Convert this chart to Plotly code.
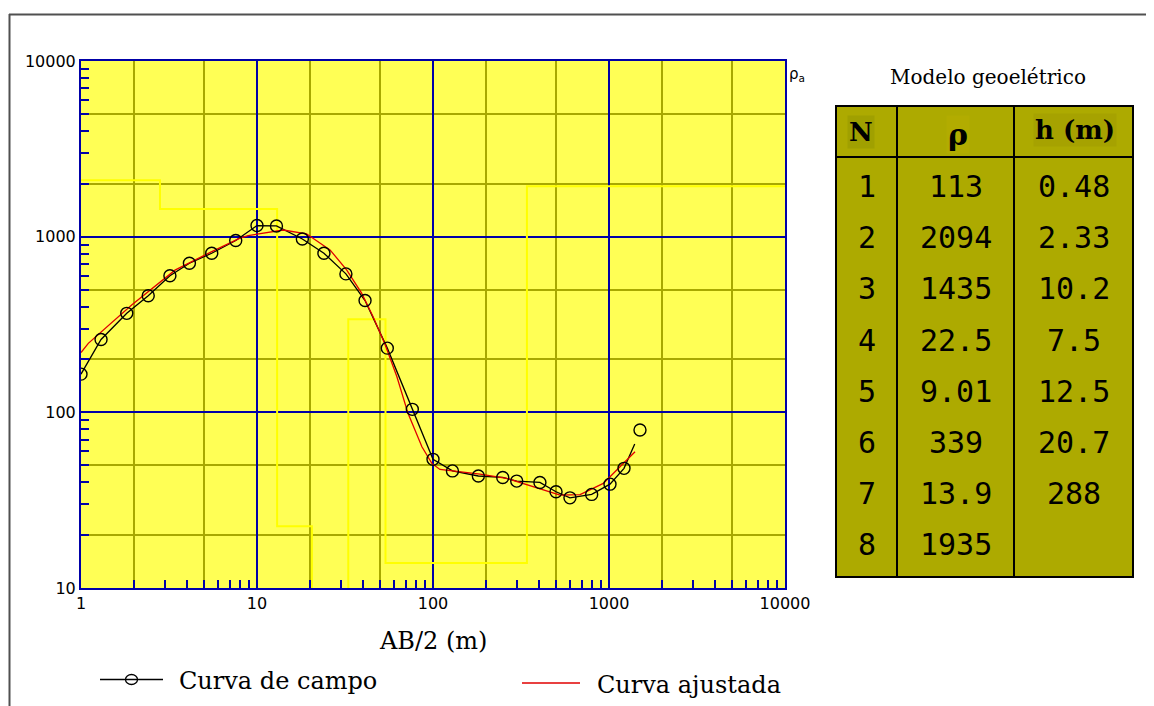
import plotly.graph_objects as go

# ---------------- data ----------------
# Field sounding curve (AB/2 in m, apparent resistivity in ohm.m)
field_ab2 = [1.0, 1.30, 1.82, 2.41, 3.20, 4.13, 5.53, 7.57, 10.0, 12.9, 18.1, 24.0, 32.0,
             41.1, 55.0, 76.3, 100, 129, 181, 249, 299, 405, 500, 600, 797, 1013, 1217, 1500]
field_rho = [165, 260, 366, 461, 599, 706, 805, 951, 1157, 1151, 970, 805, 614,
             433, 232, 104, 54.0, 46.4, 43.4, 42.6, 40.6, 39.9, 35.3, 32.6, 34.1, 39.0, 48.0, 79.3]
# end of the drawn field line (it stops short of the last circle)
field_line_end_ab2 = 1400
field_line_end_rho = 66

# Fitted (model) curve
fit_ab2 = [1.0, 1.1, 1.94, 3.42, 5.5, 8.0, 8.9, 12.6, 14.1, 19.1, 26.0, 32.3, 39.3, 45.6,
           53.1, 62.3, 72.1, 86.5, 98.5, 109.5, 185, 262, 370, 527, 685, 928, 1155, 1406]
fit_rho = [219, 247, 408, 645, 820, 982, 1015, 1066, 1091, 1038, 841, 647, 477, 351,
           247, 160, 98.7, 63.7, 51.2, 47.3, 44.5, 42.1, 37.7, 33.8, 34.0, 39.4, 49.0, 59.6]

# Geoelectric model (table)
layer_n = [1, 2, 3, 4, 5, 6, 7, 8]
layer_rho = [113, 2094, 1435, 22.5, 9.01, 339, 13.9, 1935]
layer_h = [0.48, 2.33, 10.2, 7.5, 12.5, 20.7, 288, None]
layer_rho_txt = ["113", "2094", "1435", "22.5", "9.01", "339", "13.9", "1935"]
layer_h_txt = ["0.48", "2.33", "10.2", "7.5", "12.5", "20.7", "288", ""]

x_decades = [1, 10, 100, 1000, 10000]
x_labels = ["1", "10", "100", "1000", "10000"]
y_decades = [10, 100, 1000, 10000]
y_labels = ["10", "100", "1000", "10000"]

# ---------------- style ----------------
W, H = 1154, 706          # browser window
OFF = 8                   # default page body margin
FW, FH = W - OFF, H - OFF  # figure size
L, R, T, B = 81, 785, 61, 588   # plot area in window pixels
YEL_BG = "#FFFF55"
OLIVE = "#A8A800"
NAVY = "#0000A8"
TABLE_FILL = "#ADAA00"
SERIF = "DejaVu Serif"


def px(x):
    return (x - L) / (R - L)


def py(y):
    return (B - y) / (B - T)


# model step line built from the layer table
tops = [0.1]
depth = 0.0
for h in layer_h[:-1]:
    depth += h
    tops.append(depth)
bottoms = tops[1:] + [1e5]
step_x, step_y = [], []
for t, b, r in zip(tops, bottoms, layer_rho):
    step_x += [t, b]
    step_y += [r, r]

fig = go.Figure()
fig.add_trace(go.Scatter(x=step_x, y=step_y, mode="lines",
                         line=dict(color="#FFFF00", width=2), hoverinfo="skip"))
fig.add_trace(go.Scatter(x=field_ab2[:-1] + [field_line_end_ab2],
                         y=field_rho[:-1] + [field_line_end_rho], mode="lines",
                         line=dict(color="black", width=1.3), hoverinfo="skip"))
fig.add_trace(go.Scatter(x=fit_ab2, y=fit_rho, mode="lines",
                         line=dict(color="#E00000", width=1.3), hoverinfo="skip"))
fig.add_trace(go.Scatter(x=field_ab2, y=field_rho, mode="markers",
                         marker=dict(symbol="circle-open", size=12, color="black",
                                     line=dict(width=1.4, color="black")),
                         hoverinfo="skip"))
# dummy trace for the overlay (minor tick) axes
fig.add_trace(go.Scatter(x=[1], y=[10], xaxis="x2", yaxis="y2", mode="markers",
                         marker=dict(opacity=0), hoverinfo="skip"))

grid_minor_x = [k * 10 ** d for d in range(4) for k in (2, 5)]
grid_minor_y = [k * 10 ** d for d in range(1, 4) for k in (2, 5)]
ticks_minor_x = [k * 10 ** d for d in range(4) for k in range(2, 10)]
ticks_minor_y = [k * 10 ** d for d in range(1, 4) for k in range(2, 10)]

tickfont = dict(family="DejaVu Sans", size=16, color="black")

fig.update_layout(
    width=FW, height=FH, autosize=False,
    margin=dict(l=L - OFF, r=W - R, t=T - OFF, b=H - B, pad=0),
    paper_bgcolor="white", plot_bgcolor=YEL_BG, showlegend=False,
    xaxis=dict(type="log", range=[0, 4], tickmode="array", tickvals=x_decades,
               ticktext=x_labels, showgrid=True, gridcolor=NAVY, gridwidth=2,
               ticks="", showline=True, linecolor=NAVY, linewidth=2, mirror=True,
               zeroline=False, tickfont=tickfont,
               minor=dict(tickmode="array", tickvals=grid_minor_x, showgrid=True,
                          gridcolor=OLIVE, gridwidth=2, ticks="")),
    yaxis=dict(type="log", range=[1, 4], tickmode="array", tickvals=y_decades,
               ticktext=y_labels, showgrid=True, gridcolor=NAVY, gridwidth=2,
               ticks="", showline=True, linecolor=NAVY, linewidth=2, mirror=True,
               zeroline=False, tickfont=tickfont,
               minor=dict(tickmode="array", tickvals=grid_minor_y, showgrid=True,
                          gridcolor=OLIVE, gridwidth=2, ticks="")),
    xaxis2=dict(type="log", range=[0, 4], overlaying="x", side="bottom",
                tickmode="array", tickvals=ticks_minor_x, ticks="inside", ticklen=8,
                tickwidth=2, tickcolor=NAVY, showticklabels=False, showgrid=False,
                showline=False, zeroline=False),
    yaxis2=dict(type="log", range=[1, 4], overlaying="y", side="left",
                tickmode="array", tickvals=ticks_minor_y, ticks="inside", ticklen=8,
                tickwidth=2, tickcolor=NAVY, showticklabels=False, showgrid=False,
                showline=False, zeroline=False),
)

shapes = []
ann = []

# outer frame (top and left edges visible)
shapes.append(dict(type="line", xref="paper", yref="paper", x0=px(9), x1=px(1154),
                   y0=py(14.5), y1=py(14.5), line=dict(color="#505050", width=2)))
shapes.append(dict(type="line", xref="paper", yref="paper", x0=px(9.5), x1=px(9.5),
                   y0=py(14), y1=py(706), line=dict(color="#505050", width=2)))

# rho_a label
ann.append(dict(xref="paper", yref="paper", x=px(787), y=py(74), xanchor="left",
                yanchor="middle", showarrow=False, text="ρ<sub>a</sub>",
                font=dict(family="DejaVu Sans", size=15, color="black")))

# x-axis title
ann.append(dict(xref="paper", yref="paper", x=px(433), y=py(641), xanchor="center",
                yanchor="middle", showarrow=False, text="AB/2 (m)",
                font=dict(family=SERIF, size=24, color="black")))

# legend
shapes.append(dict(type="line", xref="paper", yref="paper", x0=px(100), x1=px(163),
                   y0=py(679.5), y1=py(679.5), line=dict(color="black", width=1.3)))
shapes.append(dict(type="circle", xref="paper", yref="paper", x0=px(125.5), x1=px(137.5),
                   y0=py(674.5), y1=py(684.5), line=dict(color="black", width=1.3),
                   fillcolor="rgba(0,0,0,0)"))
ann.append(dict(xref="paper", yref="paper", x=px(177), y=py(681), xanchor="left",
                yanchor="middle", showarrow=False, text="Curva de campo",
                font=dict(family=SERIF, size=24, color="black")))
shapes.append(dict(type="line", xref="paper", yref="paper", x0=px(522), x1=px(580),
                   y0=py(683), y1=py(683), line=dict(color="#E00000", width=1.3)))
ann.append(dict(xref="paper", yref="paper", x=px(595), y=py(685), xanchor="left",
                yanchor="middle", showarrow=False, text="Curva ajustada",
                font=dict(family=SERIF, size=24, color="black")))

# table title
ann.append(dict(xref="paper", yref="paper", x=px(988), y=py(77), xanchor="center",
                yanchor="middle", showarrow=False, text="Modelo geoelétrico",
                font=dict(family=SERIF, size=20, color="black")))

# table body
TL, TR, TT, TB = 836, 1133, 106, 577
C1, C2, HD = 897, 1014, 157
shapes.append(dict(type="rect", xref="paper", yref="paper", x0=px(TL), x1=px(TR),
                   y0=py(TT), y1=py(TB), fillcolor=TABLE_FILL,
                   line=dict(color="black", width=2), layer="below"))
for cx in (C1, C2):
    shapes.append(dict(type="line", xref="paper", yref="paper", x0=px(cx), x1=px(cx),
                       y0=py(TT), y1=py(TB), line=dict(color="black", width=2)))
shapes.append(dict(type="line", xref="paper", yref="paper", x0=px(TL), x1=px(TR),
                   y0=py(HD), y1=py(HD), line=dict(color="black", width=2)))

col_centers = [(TL + C1) / 2, (C1 + C2) / 2, (C2 + TR) / 2]
hdr_font = dict(family=SERIF, size=26, color="black")
ann.append(dict(xref="paper", yref="paper", x=px(861), y=py(132), xanchor="center",
                yanchor="middle", showarrow=False, text="<b>N</b>", font=hdr_font,
                bgcolor="#A0A000"))
ann.append(dict(xref="paper", yref="paper", x=px(958), y=py(134), xanchor="center",
                yanchor="middle", showarrow=False, text="<b>ρ</b>",
                font=dict(family=SERIF, size=30, color="black"), bgcolor="#B2AC00"))
ann.append(dict(xref="paper", yref="paper", x=px(1075), y=py(130), xanchor="center",
                yanchor="middle", showarrow=False, text="<b>h (m)</b>", font=hdr_font,
                bgcolor="#A6A200"))

row0, row_step = 186.5, 51.2
cell_font = dict(family="DejaVu Sans Mono", size=30, color="black")
for i, (n, r, h) in enumerate(zip(layer_n, layer_rho_txt, layer_h_txt)):
    yy = py(row0 + i * row_step)
    for cx, txt in zip(col_centers, (str(n), r, h)):
        if txt:
            ann.append(dict(xref="paper", yref="paper", x=px(cx), y=yy,
                            xanchor="center", yanchor="middle", showarrow=False,
                            text=txt, font=cell_font))

fig.update_layout(shapes=shapes, annotations=ann)
fig.write_html("out.html")
